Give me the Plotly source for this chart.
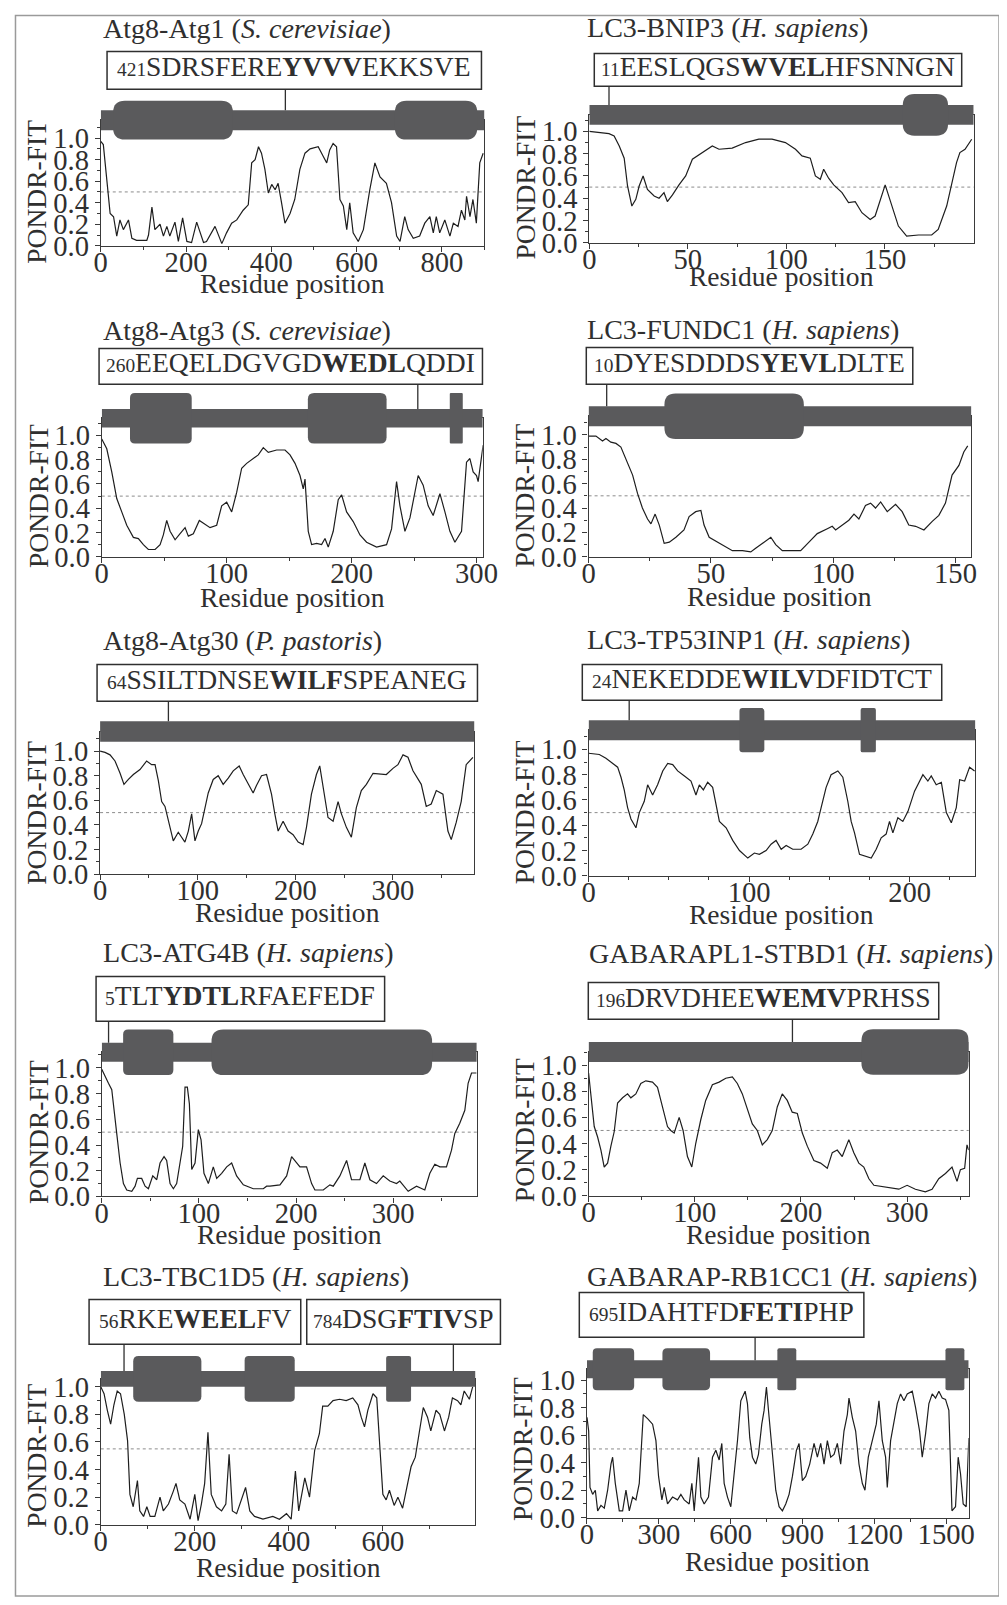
import plotly.graph_objects as go

# ---------------- data ----------------
y_tick_labels = ["0.0", "0.2", "0.4", "0.6", "0.8", "1.0"]

# Atg8-Atg1 (S. cerevisiae)
atg1_len = 900
atg1_x = [0, 6, 22, 30, 37.5, 45, 53, 65, 73, 84, 108, 112, 120, 127, 139, 147, 155, 162, 174, 182,
          192, 202, 213, 225, 241, 248, 268, 284, 295, 307, 319, 334, 346, 354, 362, 370, 377, 385, 393, 401,
          409, 416, 424, 432, 444, 455, 467, 479, 491, 510, 522, 530, 537, 545, 553, 561, 569, 577, 584, 592,
          604, 616, 631, 643, 655, 670, 682, 694, 702, 713, 721, 733, 748, 760, 772, 780, 787, 795, 807, 819,
          827, 838, 846, 854, 858, 866, 873, 881, 889, 897]
atg1_y = [0.97, 0.94, 0.3, 0.27, 0.09, 0.24, 0.15, 0.24, 0.07, 0.05, 0.05, 0.1, 0.36, 0.15, 0.2, 0.09, 0.18, 0.09, 0.22, 0.04,
          0.26, 0.04, 0.03, 0.22, 0.03, 0.04, 0.18, 0.02, 0.12, 0.21, 0.24, 0.33, 0.38, 0.77, 0.8, 0.92, 0.86, 0.71, 0.49, 0.57,
          0.52, 0.58, 0.4, 0.21, 0.3, 0.43, 0.71, 0.86, 0.9, 0.92, 0.83, 0.77, 0.89, 0.95, 0.92, 0.43, 0.37, 0.15, 0.4, 0.12,
          0.04, 0.15, 0.52, 0.77, 0.64, 0.58, 0.4, 0.09, 0.04, 0.27, 0.15, 0.07, 0.09, 0.21, 0.27, 0.12, 0.27, 0.12, 0.24, 0.09,
          0.21, 0.18, 0.33, 0.24, 0.46, 0.27, 0.43, 0.21, 0.77, 0.86]
atg1_domains = [(29, 310), (690, 883)]
atg1_motifs = [433]
atg1_seq = [("421", "SDRSFERE", "YVVV", "EKKSVE")]

# LC3-BNIP3 (H. sapiens)
bnip3_len = 195
bnip3_x = [0, 5, 10, 12.6, 15.2, 17.7, 19.4, 21.6, 23.6, 25.3, 27.3, 29.5, 32.9, 35.4, 37.9, 39.6, 42.2, 45.5, 48.9, 52.3,
           57.3, 62.4, 65.8, 72.5, 79.3, 86, 92.7, 99.5, 104.6, 107.9, 112.1, 114.7, 117.2, 118.9, 121.4, 124, 128.2, 131.5,
           134.9, 138.3, 142.5, 145, 150.1, 153.5, 156.8, 161, 167, 173.7, 177, 181.3, 183.8, 186.3, 188, 190.6, 194]
bnip3_y = [1.0, 0.99, 0.98, 0.96, 0.87, 0.76, 0.51, 0.33, 0.39, 0.51, 0.6, 0.48, 0.42, 0.4, 0.45, 0.37, 0.43, 0.52, 0.6, 0.75,
           0.81, 0.87, 0.84, 0.85, 0.9, 0.93, 0.93, 0.9, 0.84, 0.78, 0.76, 0.6, 0.57, 0.66, 0.58, 0.52, 0.45, 0.36, 0.37, 0.27,
           0.21, 0.24, 0.52, 0.33, 0.15, 0.06, 0.07, 0.07, 0.12, 0.33, 0.54, 0.72, 0.81, 0.84, 0.93]
bnip3_domains = [(159, 182)]
bnip3_motifs = [10]
bnip3_seq = [("11", "EESLQGS", "WVEL", "HFSNNGN")]

# Atg8-Atg3 (S. cerevisiae)
atg3_len = 305
atg3_x = [0, 4, 8, 12, 16, 20, 25.3, 29.3, 33.3, 37.3, 42.7, 46.7, 49.3, 52, 54.7, 58.7, 62.7, 66.7, 69.3, 73.3,
          78.1, 82.7, 86.7, 92, 96, 100, 104, 108, 112, 116, 121.3, 125.3, 129.3, 133.3, 140, 146.7, 150.7, 154.7, 158.7, 161.3,
          162.7, 165.3, 168, 172, 176, 178.7, 181.3, 185.3, 189.3, 192, 196, 201.3, 206.7, 212, 220, 228, 232, 236, 238.7, 242.7,
          246.7, 253.3, 257.3, 261.3, 265.3, 270.7, 274.7, 278.7, 282.7, 288, 292, 294.7, 297.3, 300, 301.3, 304, 305.3]
atg3_y = [0.97, 0.89, 0.7, 0.48, 0.37, 0.26, 0.16, 0.15, 0.1, 0.06, 0.06, 0.1, 0.18, 0.3, 0.21, 0.14, 0.19, 0.24, 0.17, 0.19,
          0.3, 0.27, 0.24, 0.26, 0.42, 0.45, 0.37, 0.53, 0.73, 0.77, 0.81, 0.84, 0.9, 0.86, 0.88, 0.88, 0.84, 0.77, 0.67, 0.56,
          0.64, 0.21, 0.1, 0.11, 0.1, 0.15, 0.08, 0.21, 0.47, 0.51, 0.37, 0.29, 0.18, 0.12, 0.08, 0.1, 0.23, 0.62, 0.42, 0.21,
          0.32, 0.67, 0.59, 0.42, 0.34, 0.52, 0.37, 0.21, 0.12, 0.21, 0.78, 0.81, 0.7, 0.67, 0.62, 0.84, 0.92]
atg3_domains = [(22.6, 72), (165, 228), (278.6, 289)]
atg3_motifs = [253]
atg3_seq = [("260", "EEQELDGVGD", "WEDL", "QDDI")]

# LC3-FUNDC1 (H. sapiens)
fundc1_len = 156.5
fundc1_x = [0, 3, 5.7, 7.1, 9.1, 11.2, 13.2, 15.2, 18, 20, 22, 24.1, 25.5, 27.2, 28.9, 30.9, 33, 35.7, 39, 41.1,
            43.8, 45.9, 47.2, 49.3, 52.7, 56.1, 58.8, 62.9, 66.3, 68.3, 71.7, 74.5, 76.5, 79.2, 83.3, 86.7, 90.1, 93.5, 97.6, 99.6,
            101, 103.7, 106.4, 108.5, 110.5, 113.2, 115.3, 117.3, 119.4, 122.1, 125.5, 128.2, 130.9, 133.7, 137.1, 140.5, 143.2,
            145.9, 147.3, 148.6, 151.4, 153.4, 155]
fundc1_y = [0.99, 0.99, 0.95, 0.97, 0.94, 0.93, 0.9, 0.8, 0.67, 0.52, 0.4, 0.31, 0.27, 0.35, 0.26, 0.11, 0.12, 0.16, 0.22, 0.33,
            0.37, 0.38, 0.26, 0.16, 0.12, 0.08, 0.05, 0.05, 0.04, 0.07, 0.12, 0.16, 0.1, 0.05, 0.05, 0.05, 0.12, 0.19, 0.23, 0.25,
            0.22, 0.26, 0.3, 0.35, 0.31, 0.42, 0.44, 0.4, 0.45, 0.37, 0.43, 0.37, 0.26, 0.25, 0.22, 0.29, 0.34,
            0.44, 0.56, 0.67, 0.75, 0.86, 0.91]
fundc1_domains = [(31, 88)]
fundc1_motifs = [7.4]
fundc1_seq = [("10", "DYESDDDS", "YEVL", "DLTE")]

# Atg8-Atg30 (P. pastoris)
atg30_len = 383.5
atg30_x = [0, 5.1, 10.2, 15.3, 20.5, 24.5, 29, 34.1, 40.9, 47.7, 52.8, 56.3, 59.7, 63.1, 66.5, 69.9, 75, 80.1, 83.5, 86.9,
           90.4, 93.8, 97.2, 100.6, 104, 107.4, 110.8, 115.9, 121, 126.1, 131.3, 136.4, 142.5, 146.6, 151.7, 156.8, 160.2, 165.4,
           170.5, 175.6, 179, 182.4, 187.5, 192.6, 197.7, 202.9, 208, 211.4, 216.5, 221.6, 225, 228.4, 233.5, 238.7, 243.8,
           247.2, 252.3, 257.4, 262.5, 267.6, 272.8, 279.6, 288.1, 293.2, 300, 305.1, 310.3, 315.4, 320.5, 329,
           334.1, 339.2, 344.4, 351.2, 356.3, 359.7, 364.8, 369.9, 375, 381.9]
atg30_y = [1.0, 0.99, 0.97, 0.92, 0.82, 0.73, 0.77, 0.81, 0.85, 0.92, 0.89, 0.89, 0.76, 0.59, 0.55, 0.43, 0.27, 0.34, 0.3, 0.26,
           0.35, 0.49, 0.27, 0.35, 0.41, 0.54, 0.66, 0.77, 0.8, 0.73, 0.78, 0.84, 0.88, 0.81, 0.73, 0.66, 0.72, 0.8, 0.81, 0.65,
           0.49, 0.35, 0.43, 0.35, 0.32, 0.26, 0.24, 0.38, 0.65, 0.81, 0.88, 0.7, 0.46, 0.43, 0.59, 0.49, 0.38, 0.3, 0.54, 0.68,
           0.73, 0.82, 0.81, 0.81, 0.86, 0.89, 0.97, 0.95, 0.84, 0.73, 0.55, 0.57, 0.68, 0.65, 0.35, 0.28, 0.42, 0.59, 0.89, 0.95]
atg30_domains = []
atg30_motifs = [70]
atg30_seq = [("64", "SSILTDNSE", "WILF", "SPEANEG")]

# LC3-TP53INP1 (H. sapiens)
tp53inp1_len = 241
tp53inp1_x = [0, 6.7, 10.8, 15, 18.1, 20.2, 22.2, 24.3, 26.4, 29.5, 31.6, 34.7, 36.8, 39.9, 43, 46.2, 49.3, 52.4, 55.5, 59.7,
              63.8, 66.9, 69, 71.5, 74.2, 77.3, 79.4, 81.5, 85.7, 89.8, 94, 99.2, 103.3, 106.4, 110.6, 113.7, 116.8, 120, 123.1,
              127.2, 132.4, 136.6, 139.7, 142.8, 144.9, 148, 151.1, 155.3, 158.4, 161.5, 163.6, 165.7, 168.8, 173, 176.1, 179.2,
              182.3, 185.4, 187.5, 189.6, 192.7, 195.8, 199, 203.1, 206.2, 208.3, 211.4, 213.5, 216.6, 219.8,
              222.9, 226, 229.1, 231.2, 234.3, 237.4, 240.5]
tp53inp1_y = [0.97, 0.96, 0.93, 0.89, 0.86, 0.78, 0.68, 0.54, 0.45, 0.38, 0.5, 0.59, 0.72, 0.64, 0.72, 0.83, 0.89, 0.88, 0.83, 0.79,
              0.75, 0.64, 0.72, 0.68, 0.74, 0.7, 0.57, 0.43, 0.38, 0.28, 0.2, 0.14, 0.18, 0.17, 0.2, 0.25, 0.28, 0.21, 0.24, 0.21,
              0.21, 0.25, 0.33, 0.43, 0.54, 0.7, 0.8, 0.83, 0.78, 0.59, 0.43, 0.34, 0.17, 0.15, 0.14, 0.21, 0.3, 0.33, 0.43, 0.34,
              0.46, 0.43, 0.51, 0.67, 0.75, 0.8, 0.75, 0.79, 0.72, 0.74, 0.5, 0.42, 0.54, 0.76, 0.75, 0.86, 0.83]
tp53inp1_domains = [(94, 109.5), (169.5, 179)]
tp53inp1_motifs = [25.3]
tp53inp1_seq = [("24", "NEKEDDE", "WILV", "DFIDTCT")]

# LC3-ATG4B (H. sapiens)
atg4b_len = 386
atg4b_x = [0, 3.4, 6.9, 10.3, 12, 15.4, 18.9, 22.3, 25.7, 30.9, 34.3, 36.7, 41.1, 44.6, 48, 52.5, 56.6, 60, 64.1, 66.8,
           70.3, 73.7, 77.1, 83.3, 85.7, 88.1, 90.2, 92.6, 96, 99.4, 102.2, 105.2, 109.7, 114.8, 118.3, 123.4, 128.6, 133.7,
           138.8, 145.7, 156, 166.3, 169.7, 173.1, 183.4, 190.3, 195.4, 200.5, 204, 210.8, 216, 219.4, 228, 234.8, 238.3,
           245.1, 252, 257.1, 260.5, 265.7, 270.8, 276, 282.8, 289.7, 296.5, 303.4, 306.8, 315.4, 324, 332.5,
           337.7, 342.8, 348, 354.8, 360, 363.4, 368.5, 373.7, 377.1, 380.6, 385.7]
atg4b_y = [0.99, 0.93, 0.88, 0.83, 0.7, 0.49, 0.26, 0.1, 0.05, 0.04, 0.08, 0.14, 0.14, 0.08, 0.06, 0.16, 0.13, 0.26, 0.31, 0.28,
           0.1, 0.06, 0.1, 0.39, 0.85, 0.85, 0.72, 0.21, 0.26, 0.52, 0.44, 0.18, 0.1, 0.23, 0.14, 0.18, 0.23, 0.26, 0.16, 0.09,
           0.06, 0.06, 0.08, 0.08, 0.09, 0.16, 0.31, 0.26, 0.23, 0.23, 0.1, 0.05, 0.05, 0.09, 0.08, 0.16, 0.28, 0.13, 0.13, 0.13,
           0.26, 0.13, 0.1, 0.16, 0.12, 0.1, 0.12, 0.04, 0.08, 0.05, 0.18, 0.25, 0.23, 0.23, 0.36, 0.49, 0.57, 0.67, 0.88, 0.96,
           0.96]
atg4b_domains = [(22, 73.7), (113, 340)]
atg4b_motifs = [7]
atg4b_seq = [("5", "TLT", "YDTL", "RFAEFEDF")]

# GABARAPL1-STBD1 (H. sapiens)
stbd1_len = 358
stbd1_x = [0, 2.2, 5.3, 8.5, 11.6, 14.7, 17.9, 21, 24.1, 27.3, 32, 36.7, 39.8, 44.5, 49.2, 53.9, 60.2, 64.9, 69.6, 74.3,
           77.4, 80.6, 85.3, 89, 93.1, 97.2, 100.9, 105.6, 110.3, 116.6, 122.9, 129.2, 135.4, 140.1, 144.8, 149.5, 154.2, 158.9,
           163.6, 168.3, 173, 177.7, 182.4, 187.1, 191.8, 196.6, 201.3, 206, 212.2, 218.5, 224.8, 229.5, 234.2, 238.9, 245.1,
           249.8, 254.5, 259.2, 264, 268.7, 276.5, 284.3, 292.2, 300, 307.8, 317.2, 323.5, 329.8, 336.1, 342.3,
           347, 350.2, 354.2, 356.4, 358]
stbd1_y = [0.94, 0.76, 0.53, 0.45, 0.35, 0.22, 0.25, 0.38, 0.49, 0.71, 0.75, 0.78, 0.75, 0.78, 0.86, 0.88, 0.87, 0.83, 0.68, 0.53,
           0.5, 0.48, 0.6, 0.5, 0.3, 0.22, 0.4, 0.58, 0.73, 0.85, 0.87, 0.9, 0.91, 0.86, 0.78, 0.66, 0.55, 0.5, 0.39, 0.43,
           0.5, 0.68, 0.78, 0.73, 0.64, 0.63, 0.48, 0.38, 0.27, 0.25, 0.21, 0.33, 0.35, 0.3, 0.43, 0.33, 0.25, 0.22, 0.13, 0.08,
           0.07, 0.06, 0.05, 0.08, 0.05, 0.03, 0.05, 0.13, 0.17, 0.22, 0.11, 0.2, 0.21, 0.39, 0.35]
stbd1_domains = [(257, 358)]
stbd1_motifs = [192]
stbd1_seq = [("196", "DRVDHEE", "WEMV", "PRHSS")]

# LC3-TBC1D5 (H. sapiens)
tbc1d5_len = 797
tbc1d5_x = [0, 7, 14, 21, 28, 35, 42, 50, 57, 62, 69, 78, 83, 91, 98, 105, 115, 126, 133, 144,
            154, 160, 168, 179, 190, 200, 207, 214, 221, 228, 235, 246, 257, 266, 273, 280, 289, 299, 308, 317,
            327, 345, 366, 380, 395, 405, 414, 421, 434, 444, 455, 465, 472, 483, 494, 508, 522, 536, 547, 554,
            561, 568, 579, 587, 593, 600, 607, 614, 624, 632, 642, 653, 660, 669, 677, 686, 695, 702, 713, 721,
            731, 740, 748, 759, 766, 773, 784, 791]
tbc1d5_y = [1.0, 0.95, 0.83, 0.73, 0.87, 0.97, 0.95, 0.8, 0.61, 0.22, 0.13, 0.32, 0.1, 0.06, 0.13, 0.06, 0.06, 0.2, 0.1, 0.15,
            0.24, 0.3, 0.18, 0.15, 0.04, 0.22, 0.03, 0.15, 0.3, 0.67, 0.22, 0.13, 0.1, 0.15, 0.51, 0.1, 0.08, 0.18, 0.27, 0.1,
            0.06, 0.04, 0.06, 0.04, 0.08, 0.04, 0.39, 0.1, 0.34, 0.2, 0.54, 0.66, 0.86, 0.86, 0.9, 0.91, 0.9, 0.92, 0.87, 0.78,
            0.71, 0.83, 0.95, 0.92, 0.61, 0.22, 0.18, 0.25, 0.14, 0.2, 0.12, 0.3, 0.42, 0.49, 0.66, 0.85, 0.78, 0.68, 0.83, 0.8,
            0.68, 0.78, 0.92, 0.9, 0.87, 0.97, 0.91, 1.0]
tbc1d5_domains = [(69, 214), (306, 412.5), (607, 660)]
tbc1d5_motifs = [49.5, 750]
tbc1d5_seq = [("56", "RKE", "WEEL", "FV"), ("784", "DSG", "FTIV", "SP")]

# GABARAP-RB1CC1 (H. sapiens)
rb1cc1_len = 1594
rb1cc1_x = [0, 7, 12.5, 23.6, 34.8, 44.5, 58.4, 72.3, 86.2, 100.1, 107, 118.2, 134.9, 148.8, 162.7, 176.6, 190.5, 204.4, 218.3, 235,
            253, 273.9, 287.8, 298.9, 312.8, 322.5, 336.4, 357.3, 378.1, 392, 406, 426.8, 437.9, 447.7, 465.7, 475.5, 489.4, 507.4,
            524.1, 538, 551.9, 563, 572.8, 586.7, 600.6, 614.5, 628.4, 642.3, 660.4, 670.1, 679.8, 690.9, 704.8, 716, 729.9,
            739.6, 749.3, 760.5, 774.4, 788.3, 802.2, 816.1, 830, 843.9, 857.8, 874.5, 885.6, 899.5, 913.4, 930.1,
            948.2, 962.1, 976, 989.9, 1003.8, 1017.7, 1031.6, 1045.5, 1059.4, 1073.3, 1087.2, 1094.1, 1108, 1121.9, 1135.8,
            1149.7, 1160.8, 1174.7, 1191.4, 1208.1, 1219.2, 1233.1, 1247, 1254, 1267.9, 1281.8, 1295.7, 1309.6, 1323.5, 1337.4,
            1358.3, 1372.2, 1388.9, 1400, 1413.9, 1427.8, 1441.7, 1455.6, 1469.5, 1483.4, 1497.3, 1511.2, 1524.1, 1539, 1550.1,
            1559.9, 1571, 1583.5, 1594.6]
rb1cc1_y = [0.73, 0.63, 0.22, 0.17, 0.2, 0.05, 0.09, 0.07, 0.2, 0.39, 0.44, 0.25, 0.05, 0.05, 0.2, 0.05, 0.15, 0.13, 0.25, 0.75,
            0.72, 0.68, 0.56, 0.3, 0.13, 0.22, 0.1, 0.15, 0.13, 0.17, 0.13, 0.1, 0.25, 0.05, 0.44, 0.15, 0.1, 0.15, 0.44, 0.49,
            0.42, 0.54, 0.25, 0.15, 0.08, 0.3, 0.56, 0.85, 0.92, 0.83, 0.58, 0.44, 0.39, 0.46, 0.68, 0.78, 0.95, 0.73, 0.44, 0.2,
            0.08, 0.05, 0.1, 0.17, 0.3, 0.49, 0.54, 0.27, 0.3, 0.39, 0.54, 0.44, 0.54, 0.39, 0.56, 0.44, 0.46, 0.54, 0.39, 0.63,
            0.75, 0.87, 0.73, 0.63, 0.39, 0.25, 0.2, 0.44, 0.56, 0.68, 0.85, 0.56, 0.44, 0.22, 0.56, 0.7, 0.83, 0.9, 0.85, 0.9,
            0.92, 0.8, 0.63, 0.44, 0.61, 0.83, 0.9, 0.87, 0.92, 0.87, 0.86, 0.78, 0.05, 0.08, 0.44, 0.32, 0.1, 0.08, 0.58]
rb1cc1_domains = [(24, 197), (315, 514), (795, 874), (1497, 1576)]
rb1cc1_motifs = [702]
rb1cc1_seq = [("695", "IDAHTFD", "FETI", "PHP")]

# ---------------- styling / layout ----------------
W, H = 1007, 1605
# observed mapping figure px -> photographed px
AX, BX = 0.9797, 14.8
AY, BY = 0.9888, 11.5
FONT = "Liberation Serif"
INK = "#2f2f2f"
AXC = "#3a3a3a"
BAR = "#5a5a5c"
LINE = "#1e1e1e"
FS = 1 / AX
TICK_SIZE = 28 * FS
TITLE_SIZE = 27.5 * FS
SEQ_SIZE = 27 * FS
NUM_SIZE = 19 * FS
AXT_SIZE = 27 * FS
TXT_DY = 4.5

PANELS = [
    dict(title="Atg8-Atg1 (<i>S. cerevisiae</i>)", x=atg1_x, y=atg1_y, L=atg1_len, dom=atg1_domains,
         mot=atg1_motifs, seq=atg1_seq, dtick=200, minor=100, thr=0.5,
         g=dict(x0=100.7, x1=485, y0=243, y1=135, barc=117, barh=20, blobh=39, rf=0.14,
                tx=103, ty=30, boxes=[(107, 482, 48, 86)], xt=42)),
    dict(title="LC3-BNIP3 (<i>H. sapiens</i>)", x=bnip3_x, y=bnip3_y, L=bnip3_len, dom=bnip3_domains,
         mot=bnip3_motifs, seq=bnip3_seq, dtick=50, minor=25, thr=0.5,
         g=dict(x0=590, x1=975, y0=240, y1=128.3, barc=111.7, barh=20, blobh=41.7, rf=0.27,
                tx=588, ty=29, boxes=[(595, 963, 50, 83)], xt=38)),
    dict(title="Atg8-Atg3 (<i>S. cerevisiae</i>)", x=atg3_x, y=atg3_y, L=atg3_len, dom=atg3_domains,
         mot=atg3_motifs, seq=atg3_seq, dtick=100, minor=50, thr=0.5,
         g=dict(x0=101.7, x1=483.3, y0=555, y1=433.3, barc=416, barh=18.5, blobh=50.7, rf=0.08,
                tx=103, ty=332.5, boxes=[(99, 483, 346, 382)], xt=45)),
    dict(title="LC3-FUNDC1 (<i>H. sapiens</i>)", x=fundc1_x, y=fundc1_y, L=fundc1_len, dom=fundc1_domains,
         mot=fundc1_motifs, seq=fundc1_seq, dtick=50, minor=25, thr=0.5,
         g=dict(x0=589.3, x1=972.7, y0=555, y1=432.7, barc=414, barh=20, blobh=45.7, rf=0.08,
                tx=588, ty=331, boxes=[(587, 914, 345, 382)], xt=44)),
    dict(title="Atg8-Atg30 (<i>P. pastoris</i>)", x=atg30_x, y=atg30_y, L=atg30_len, dom=atg30_domains,
         mot=atg30_motifs, seq=atg30_seq, dtick=100, minor=50, thr=0.5,
         g=dict(x0=100, x1=475, y0=873.3, y1=750, barc=730.3, barh=20.7, blobh=44, rf=0.1,
                tx=103, ty=643, boxes=[(97, 478, 663, 700)], xt=43.5)),
    dict(title="LC3-TP53INP1 (<i>H. sapiens</i>)", x=tp53inp1_x, y=tp53inp1_y, L=tp53inp1_len, dom=tp53inp1_domains,
         mot=tp53inp1_motifs, seq=tp53inp1_seq, dtick=100, minor=25, thr=0.5,
         g=dict(x0=589.3, x1=976.7, y0=875, y1=748.3, barc=729, barh=20, blobh=44.4, rf=0.12,
                tx=588, ty=642.5, boxes=[(583, 943, 663, 699)], xt=43)),
    dict(title="LC3-ATG4B (<i>H. sapiens</i>)", x=atg4b_x, y=atg4b_y, L=atg4b_len, dom=atg4b_domains,
         mot=atg4b_motifs, seq=atg4b_seq, dtick=100, minor=50, thr=0.5,
         g=dict(x0=101.7, x1=477.3, y0=1196.7, y1=1067.7, barc=1052, barh=19, blobh=45.7, rf=0.1,
                tx=103, ty=956, boxes=[(96, 385, 976, 1021)], xt=43)),
    dict(title="GABARAPL1-STBD1 (<i>H. sapiens</i>)", x=stbd1_x, y=stbd1_y, L=stbd1_len, dom=stbd1_domains,
         mot=stbd1_motifs, seq=stbd1_seq, dtick=100, minor=50, thr=0.5,
         g=dict(x0=589.3, x1=970, y0=1196, y1=1065, barc=1051.7, barh=20, blobh=45.7, rf=0.12,
                tx=590, ty=957, boxes=[(589, 940, 982, 1019)], xt=43)),
    dict(title="LC3-TBC1D5 (<i>H. sapiens</i>)", x=tbc1d5_x, y=tbc1d5_y, L=tbc1d5_len, dom=tbc1d5_domains,
         mot=tbc1d5_motifs, seq=tbc1d5_seq, dtick=200, minor=100, thr=0.55,
         g=dict(x0=100.7, x1=476, y0=1526, y1=1387.7, barc=1379.7, barh=16, blobh=45.7, rf=0.08,
                tx=103, ty=1282, boxes=[(89, 301, 1300, 1345), (307, 501, 1300, 1345)], xt=47)),
    dict(title="GABARAP-RB1CC1 (<i>H. sapiens</i>)", x=rb1cc1_x, y=rb1cc1_y, L=rb1cc1_len, dom=rb1cc1_domains,
         mot=rb1cc1_motifs, seq=rb1cc1_seq, dtick=300, minor=150, thr=0.5,
         g=dict(x0=587.7, x1=970, y0=1519, y1=1381, barc=1370, barh=18, blobh=42, rf=0.1,
                tx=588, ty=1282, boxes=[(580, 865, 1293, 1338)], xt=48)),
]


def fx(p):          # photo px -> figure px
    return (p - BX) / AX


def fy(p):
    return (p - BY) / AY


def pxf(p):
    return min(max(fx(p) / W, 0), 1)


def py(p):
    return min(max(1 - fy(p) / H, 0), 1)


def blob_path(a, b, top, bot, rx, ry):
    rx = min(rx, (b - a) / 2)
    return (f"M {a + rx},{top} L {b - rx},{top} Q {b},{top} {b},{top - ry} "
            f"L {b},{bot + ry} Q {b},{bot} {b - rx},{bot} L {a + rx},{bot} "
            f"Q {a},{bot} {a},{bot + ry} L {a},{top - ry} Q {a},{top} {a + rx},{top} Z")


fig = go.Figure()
shapes, annotations, axes = [], [], {}

for i, P in enumerate(PANELS, start=1):
    g = P["g"]
    xa = "x" if i == 1 else f"x{i}"
    ya = "y" if i == 1 else f"y{i}"
    xk = "xaxis" if i == 1 else f"xaxis{i}"
    yk = "yaxis" if i == 1 else f"yaxis{i}"
    scale = (fx(g["x1"]) - fx(g["x0"])) / P["L"]          # figure px per residue
    ymax = (g["y0"] - g["barc"]) / (g["y0"] - g["y1"])

    fig.add_trace(go.Scatter(x=P["x"], y=P["y"], mode="lines", xaxis=xa, yaxis=ya,
                             line=dict(color=LINE, width=1.2), showlegend=False, hoverinfo="skip"))

    common = dict(showline=True, linecolor=AXC, linewidth=1.2, mirror=True, ticks="outside",
                  ticklen=5, tickwidth=1, tickcolor=AXC, showgrid=False, zeroline=False, fixedrange=True,
                  tickfont=dict(family=FONT, size=TICK_SIZE, color=INK))
    axes[xk] = dict(common, domain=[pxf(g["x0"]), pxf(g["x1"])], range=[0, P["L"]], anchor=ya,
                    tick0=0, dtick=P["dtick"], ticklabelstandoff=-14,
                    minor=dict(dtick=P["minor"], tick0=0, ticks="outside", ticklen=3, tickcolor=AXC))
    axes[yk] = dict(common, domain=[py(g["y0"]), py(g["barc"])], range=[0, ymax], anchor=xa,
                    tickmode="array", tickvals=[0, 0.2, 0.4, 0.6, 0.8, 1.0], ticktext=y_tick_labels,
                    minor=dict(dtick=0.1, tick0=0, ticks="outside", ticklen=3, tickcolor=AXC))

    # disorder threshold
    shapes.append(dict(type="line", xref=f"{xa} domain", x0=0, x1=1, yref=ya, y0=P["thr"], y1=P["thr"],
                       line=dict(color="#8c8c8c", width=1, dash="dot"), layer="below"))
    # protein bar
    bt, bb = py(g["barc"] - g["barh"] / 2), py(g["barc"] + g["barh"] / 2)
    shapes.append(dict(type="rect", xref=xa, yref="paper", x0=0, x1=P["L"], y0=bb, y1=bt,
                       fillcolor=BAR, line=dict(width=0), layer="above"))
    # structured domains
    top, bot = py(g["barc"] - g["blobh"] / 2), py(g["barc"] + g["blobh"] / 2)
    for a, b in P["dom"]:
        r_px = min(12, (b - a) * scale * g["rf"])
        shapes.append(dict(type="path", xref=xa, yref="paper",
                           path=blob_path(a, b, top, bot, r_px / scale, r_px / H),
                           fillcolor=BAR, line=dict(width=0), layer="above"))
    # sequence boxes, text and connectors
    for (bx0, bx1, by0, by1), (num, pre, core, post), m in zip(g["boxes"], P["seq"], P["mot"]):
        shapes.append(dict(type="rect", xref="paper", yref="paper", x0=pxf(bx0), x1=pxf(bx1),
                           y0=py(by1), y1=py(by0), line=dict(color=INK, width=1.5), layer="above"))
        shapes.append(dict(type="line", xref=xa, yref="paper", x0=m, x1=m, y0=py(by1), y1=bt,
                           line=dict(color=INK, width=1.3), layer="above"))
        annotations.append(dict(
            text=f'<span style="font-size:{NUM_SIZE:.1f}px">{num}</span>{pre}<b>{core}</b>{post}',
            xref="paper", yref="paper", x=pxf((bx0 + bx1) / 2), y=py((by0 + by1) / 2 + 1 - TXT_DY),
            xanchor="center", yanchor="middle", showarrow=False,
            font=dict(family=FONT, size=SEQ_SIZE, color=INK)))
    # panel title
    annotations.append(dict(text=P["title"], xref="paper", yref="paper", x=pxf(g["tx"] - 2),
                            y=py(g["ty"] - TXT_DY), xanchor="left", yanchor="middle", showarrow=False,
                            font=dict(family=FONT, size=TITLE_SIZE, color=INK)))
    # axis titles
    annotations.append(dict(text="Residue position", xref="paper", yref="paper",
                            x=pxf((g["x0"] + g["x1"]) / 2), y=py(g["y0"] + g["xt"] - TXT_DY),
                            xanchor="center", yanchor="middle", showarrow=False,
                            font=dict(family=FONT, size=AXT_SIZE, color=INK)))
    annotations.append(dict(text="PONDR-FIT", xref="paper", yref="paper", textangle=-90,
                            x=pxf(g["x0"] - 64), y=py((g["y0"] + g["y1"]) / 2),
                            xanchor="center", yanchor="middle", showarrow=False,
                            font=dict(family=FONT, size=AXT_SIZE, color=INK)))

# outer frame
shapes.append(dict(type="rect", xref="paper", yref="paper", x0=0.5 / W, x1=1006 / W, y0=1 - 1604 / H,
                   y1=1 - 0.5 / H, line=dict(color="#9a9a9a", width=1.5), layer="above"))

fig.update_layout(width=W, height=H, margin=dict(l=0, r=0, t=0, b=0), paper_bgcolor="white",
                  plot_bgcolor="white", showlegend=False, font=dict(family=FONT, color=INK),
                  shapes=shapes, annotations=annotations, **axes)

fig.write_html("out.html")
